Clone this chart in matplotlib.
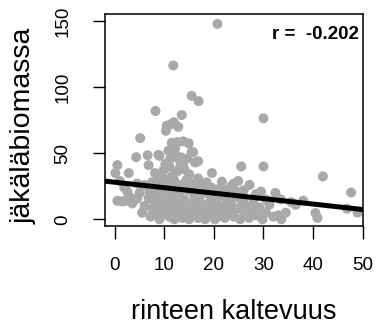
import matplotlib
matplotlib.use("Agg")
import matplotlib.pyplot as plt

plt.rcParams['font.family'] = ['Liberation Sans', 'DejaVu Sans']

# slope of the hillside (degrees) and lichen biomass per plot
slope_high = [20.7, 11.8, 15.5, 16.9, 8.2, 13.5, 30.0, 11.3, 11.9, 12.8, 10.3, 10.5,
              5.1, 11.5, 12.6, 13.8, 14.9, 15.8, 15.5, 6.6, 4.3, 9.0, 8.8, 13.3,
              0.5, 16.8, 16.2, 25.5, 30.0, 42.0, 19.6, 0.1, 2.8, 8.1, 12.0, 13.0,
              10.2, 11.0, 14.0, 12.5, 16.8, 9.5, 15.0, 13.7, 10.8, 11.2, 6.8, 24.9,
              21.6, 24.0, 47.7, 12.2, 14.6, 9.8, 11.6, 13.1, 10.4]
biomass_high = [148, 116.5, 93.5, 89.5, 82, 79, 76.5, 72, 73.5, 70, 67, 71,
                61.5, 58, 58.5, 59, 57.5, 50.8, 51, 48.5, 47, 48, 48.8, 47,
                41, 44, 43, 40, 40, 32.5, 35, 35, 35, 35, 50, 45,
                42, 40, 38, 36, 31, 32, 34, 42, 52, 46, 41, 29,
                28.5, 27, 20.3, 54, 46, 37, 33, 39, 30]

slope_mid = [1.0, 1.9, 2.5, 4.5, 6.0, 7.5, 9.0, 10.5, 12.0, 13.5, 14.5, 16.0,
             17.5, 18.5, 19.5, 21.0, 22.5, 23.5, 26.0, 27.2, 28.5, 29.5, 32.4, 31.0,
             33.5, 35.6, 36.5, 38.0, 46.9, 49.0, 40.5, 40.9, 33.0, 33.6, 34.5]
biomass_mid = [29, 24, 21, 27, 26, 28, 30, 27, 29, 26, 30, 27,
               25, 28, 24, 23, 22, 25, 22, 26, 19, 21, 20, 14,
               15, 13, 11, 14, 8, 5, 4.7, 1, 3, 0, 5]

slope_low = [0.5, 2.2, 4.5, 3.5, 6.0, 5.5, 6.8, 7.2, 7.5, 8.0, 8.3, 8.7,
             9.0, 9.3, 9.7, 10.0, 10.4, 10.6, 11.0, 11.3, 11.7, 12.0, 12.3, 12.7,
             13.0, 13.3, 13.7, 14.0, 14.4, 14.8, 15.0, 15.3, 15.7, 16.0, 16.4, 16.8,
             17.1, 17.5, 17.9, 18.2, 18.6, 19.0, 19.3, 19.8, 20.2, 20.5, 21.0, 21.3,
             21.8, 22.2, 22.6, 23.0, 23.5, 24.0, 24.4, 24.8, 25.3, 25.7, 26.2, 26.6,
             27.1, 27.6, 28.0, 28.6, 29.2, 29.8, 30.5, 31.2, 32.0, 8.5, 9.8, 11.5,
             14.0, 15.5, 18.0, 20.0, 24.5, 26.0, 28.0, 30.5, 7.0, 5.0, 3.0, 1.5,
             9.5, 12.5, 15.8, 18.8, 22.0, 13.5, 17.0, 20.8, 10.8, 16.2]
biomass_low = [14, 14, 15.5, 12, 10, 5, 16, 2, 8, 13, 19, 4,
               0, 10, 16, 6, 21, 12, 2, 8, 17, 0, 13, 5,
               20, 10, 1, 15, 7, 22, 0, 12, 4, 18, 9, 1,
               14, 6, 20, 0, 11, 3, 16, 8, 0, 13, 5, 18,
               9, 1, 14, 6, 11, 2, 17, 8, 0, 13, 4, 10,
               1, 7, 15, 3, 9, 0, 5, 11, 2, 25, 23, 24,
               25, 24, 23, 20, 21, 16, 11, 15, 21, 20, 17, 13.5,
               3, 9, 7, 5, 10, 3, 11, 2, 14, 13]

slope = slope_high + slope_mid + slope_low
biomass = biomass_high + biomass_mid + biomass_low

# least-squares fit and correlation reported on the plot
fit_intercept = 28.05
fit_slope = -0.413
r_value = -0.202

x_ticks = [0, 10, 20, 30, 40, 50]
y_ticks = [0, 50, 100, 150]

fig = plt.figure(figsize=(3.81, 3.31), dpi=100)
ax = fig.add_axes([105 / 381, 1 - 226 / 331, 258 / 381, 212 / 331])

ax.scatter(slope, biomass, s=52, color='#A9A9A9', edgecolors='none', zorder=2)
ax.axline((0, fit_intercept), slope=fit_slope, color='black', lw=3.6, zorder=3)

ax.set_xlim(-2.0, 50.1)
ax.set_ylim(-5.1, 155.5)
ax.set_xticks(x_ticks)
ax.set_yticks(y_ticks)
ax.tick_params(axis='both', direction='out', length=9, width=1.0, labelsize=13.5)
ax.tick_params(axis='x', pad=13)
ax.tick_params(axis='y', pad=15)
for lab in ax.get_yticklabels():
    lab.set_rotation(90)
    lab.set_va('center')
for sp in ax.spines.values():
    sp.set_linewidth(1.1)

ax.set_xlabel('rinteen kaltevuus', fontsize=19.5)
ax.xaxis.set_label_coords(0.5, -(312 - 226) / 212, transform=ax.transAxes)
ax.xaxis.label.set_va('center')
ax.set_ylabel('jäkäläbiomassa', fontsize=20.5)
ax.yaxis.set_label_coords(-(105 - 24) / 258, (226 - 126) / 212, transform=ax.transAxes)
ax.yaxis.label.set_va('center')

ax.text(0.985, 0.905, f'r =  {r_value}', transform=ax.transAxes,
        ha='right', va='center', fontsize=13.5, fontweight='bold')

fig.savefig('out.png', dpi=100)
